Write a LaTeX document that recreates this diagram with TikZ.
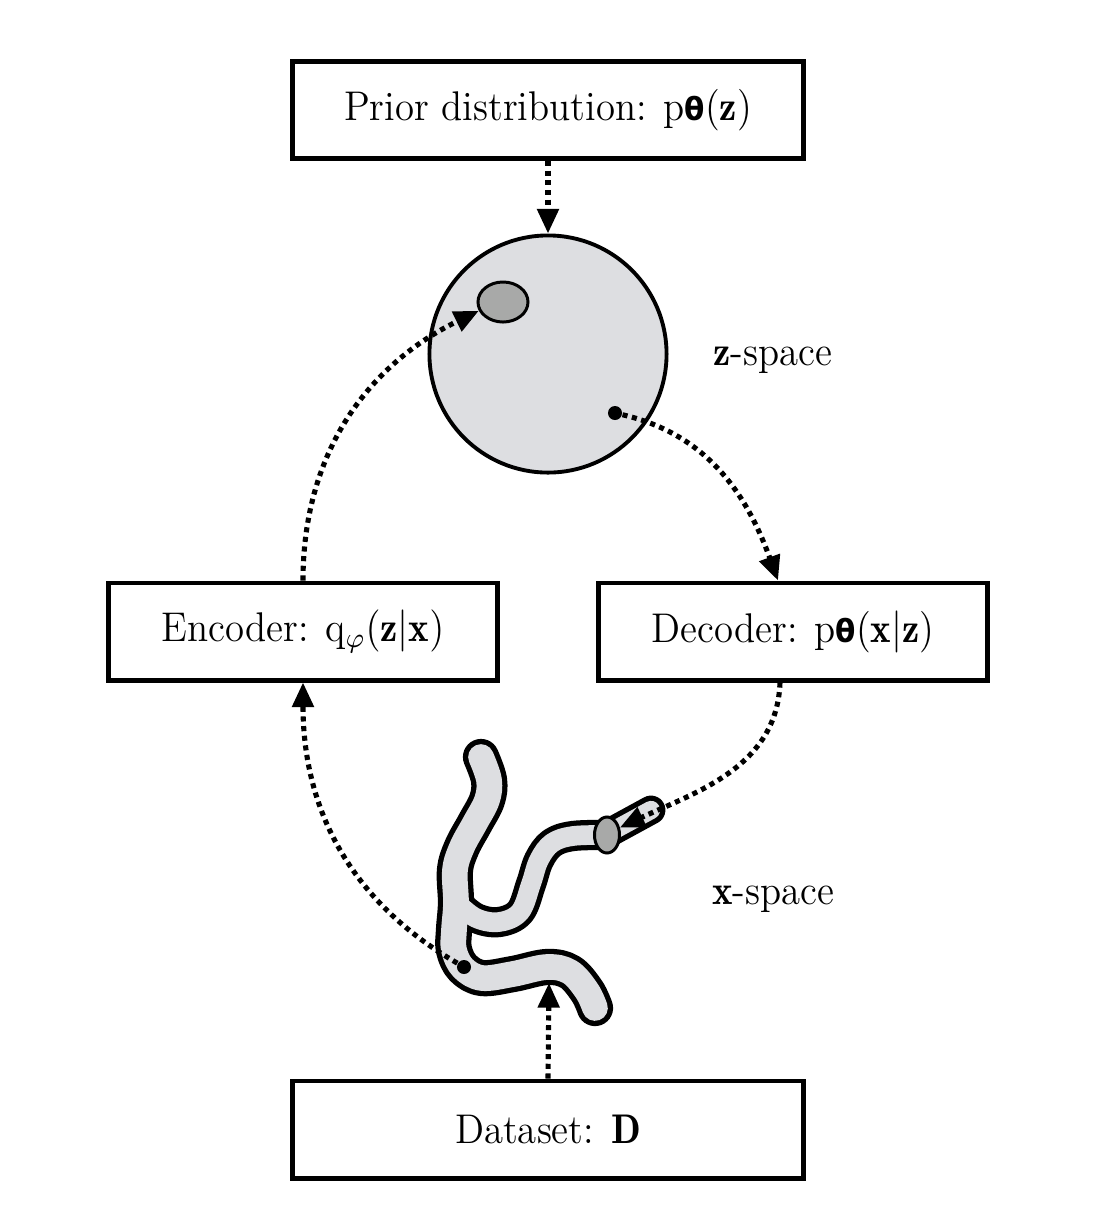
\documentclass[tikz,border=0pt]{standalone}
\usepackage{amsmath}
\usepackage{fontspec}
\newfontfamily\dvs{DejaVu Sans}
\usetikzlibrary{arrows.meta,calc,shapes.geometric}
\definecolor{zfill}{RGB}{221,222,225}
\definecolor{egray}{RGB}{168,169,168}
\definecolor{wormfill}{RGB}{221,222,225}
\newcommand{\thet}{{\dvs\bfseries\fontsize{9pt}{10pt}\selectfont θ}}
\newcommand{\sq}[1]{\scalebox{0.935}[1]{#1}}
\begin{document}
\begin{tikzpicture}[x=0.01cm,y=-0.01cm,
  box/.style={draw, line width=1.4pt, minimum width=5.10cm, minimum height=0.97cm, inner sep=0pt, font=\fontsize{11.8pt}{14pt}\selectfont},
  flow/.style={line width=1.45pt, dash pattern=on 1.45pt off 1.3pt, -{Triangle[length=7pt,width=6pt]}},
  lbl/.style={font=\fontsize{11.8pt}{14pt}\selectfont, anchor=base},
  blob/.style={ellipse, draw, line width=0.85pt, fill=egray, inner sep=0pt},
  dot/.style={circle, fill=black, inner sep=0pt, minimum size=0.14cm}]
\useasboundingbox (0,0) rectangle (1098,1220);
\fill[white] (0,0) rectangle (1098,1220);

% boxes
\node[box] (prior) at (548,110) {\sq{Prior distribution: p\thet($\mathbf{z}$)}};
\node[box, minimum width=3.88cm] (enc) at (303,631.5) {\sq{Encoder: $\mathrm{q}_{\varphi}(\mathbf{z}|\mathbf{x})$}};
\node[box, minimum width=3.88cm] (dec) at (793,631.5) {\sq{Decoder: p\thet($\mathbf{x}|\mathbf{z}$)}};
\node[box] (data) at (548,1129.5) {\sq{Dataset: $\mathbf{D}$}};

% z-space
\node[circle, draw, line width=1.1pt, fill=zfill, minimum size=2.37cm, inner sep=0pt] (zsp) at (548,354) {};
\node[blob, minimum width=0.50cm, minimum height=0.40cm] (zenc) at (503,302) {};
\node[dot] (zdot) at (615,413) {};
\node[lbl] (zlab) at (773,365) {\sq{$\mathbf{z}$-space}};

% x-space worm
\begin{scope}[line cap=round, line join=round]
\foreach \wa/\wb/\wc/\c in {10.3pt/8.6pt/8.2pt/black, 7.3pt/5.6pt/5.2pt/wormfill}{
  \draw[line width=\wa, \c] plot[smooth, tension=0.6] coordinates {
    (481,757) (489,780) (487,800) (475,823) (462,847) (455,870) (456,903)
    (454,930) (454,950) (463,968) (482,978) (513,974) (547,967) (570,972)
    (587,991) (595,1008)};
  \draw[line width=\wb, \c] plot[smooth, tension=0.6] coordinates {
    (457,903) (476,918) (499,922) (520,912) (531,884) (539,860) (552,843)
    (573,836) (607,835)};
  \draw[line width=\wc, \c] (607,834) -- (651,810);
}
\end{scope}
\node[blob, minimum width=0.25cm, minimum height=0.36cm] (xell) at (607,835) {};
\node[dot] (xdot) at (464,967) {};
\coordinate (xbot) at (549,983);
\node[lbl] (xlab) at (773,904) {\sq{$\mathbf{x}$-space}};

% connectors
\draw[flow] (prior.south) -- (zsp.north);
\draw[flow] (enc.north) to[out=90, in=206] (zenc.200);
\draw[flow] (zdot) to[out=-13, in=110] ($(dec.north)+(-15,0)$);
\draw[flow] ($(dec.south)+(-13,0)$) to[out=-92, in=25] (xell.30);
\draw[flow] (xdot) to[out=150, in=-90] (enc.south);
\draw[flow] (data.north) -- (xbot);
\end{tikzpicture}
\end{document}
